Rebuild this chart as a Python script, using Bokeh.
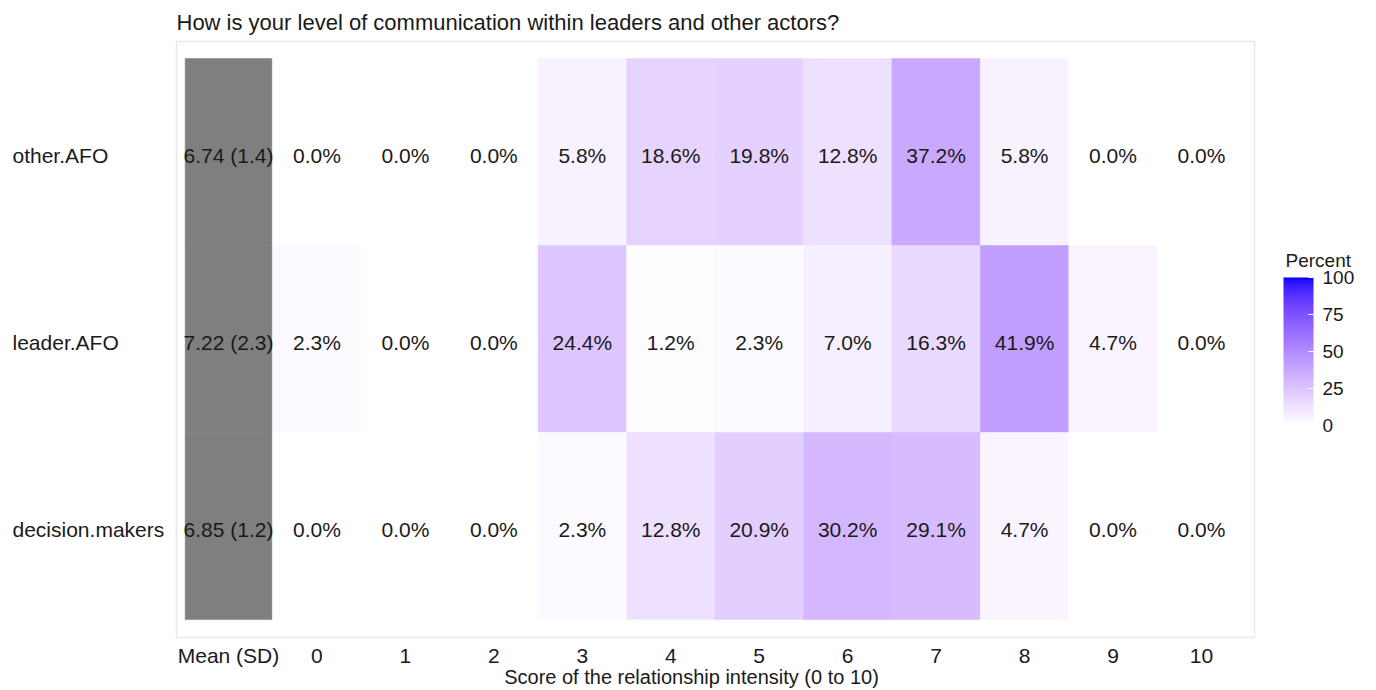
from bokeh.plotting import figure
from bokeh.models import (ColumnDataSource, Range1d, FixedTicker, LinearColorMapper,
                          ColorBar, BoxAnnotation)
from bokeh.transform import linear_cmap
from bokeh.embed import file_html
from bokeh.resources import INLINE
from bokeh.core.properties import value

# ---------------- data ----------------
rows = ["other.AFO", "leader.AFO", "decision.makers"]
scores = ["0", "1", "2", "3", "4", "5", "6", "7", "8", "9", "10"]
means = [6.74, 7.22, 6.85]
sds = [1.4, 2.3, 1.2]
pct_other = [0.0, 0.0, 0.0, 5.8, 18.6, 19.8, 12.8, 37.2, 5.8, 0.0, 0.0]
pct_leader = [2.3, 0.0, 0.0, 24.4, 1.2, 2.3, 7.0, 16.3, 41.9, 4.7, 0.0]
pct_decision = [0.0, 0.0, 0.0, 2.3, 12.8, 20.9, 30.2, 29.1, 4.7, 0.0, 0.0]
pct_rows = [pct_other, pct_leader, pct_decision]
x_labels = ["Mean (SD)"] + scores
legend_ticks = [0, 25, 50, 75, 100]
legend_title = "Percent"
title = "How is your level of communication within leaders and other actors?"
x_title = "Score of the relationship intensity (0 to 10)"

FONT = "Liberation Sans"
INK = "#1a1a1a"

# ---------------- palette: white -> blue, interpolated in CIELAB ----------------
def _lin(c):
    c = c / 255.0
    return c / 12.92 if c <= 0.04045 else ((c + 0.055) / 1.055) ** 2.4

def _gam(c):
    c = max(0.0, min(1.0, c))
    v = 12.92 * c if c <= 0.0031308 else 1.055 * c ** (1 / 2.4) - 0.055
    return int(round(max(0.0, min(1.0, v)) * 255))

XN, YN, ZN = 0.95047, 1.0, 1.08883

def rgb2lab(rgb):
    r, g, b = (_lin(v) for v in rgb)
    X = 0.4124564 * r + 0.3575761 * g + 0.1804375 * b
    Y = 0.2126729 * r + 0.7151522 * g + 0.0721750 * b
    Z = 0.0193339 * r + 0.1191920 * g + 0.9503041 * b
    def f(t):
        return t ** (1 / 3) if t > 216 / 24389 else (24389 / 27 * t + 16) / 116
    fx, fy, fz = f(X / XN), f(Y / YN), f(Z / ZN)
    return 116 * fy - 16, 500 * (fx - fy), 200 * (fy - fz)

def lab2hex(L, a, b):
    fy = (L + 16) / 116
    fx = fy + a / 500
    fz = fy - b / 200
    def finv(t):
        return t ** 3 if t ** 3 > 216 / 24389 else (116 * t - 16) / (24389 / 27)
    X, Y, Z = finv(fx) * XN, finv(fy) * YN, finv(fz) * ZN
    r = 3.2404542 * X - 1.5371385 * Y - 0.4985314 * Z
    g = -0.9692660 * X + 1.8760108 * Y + 0.0415560 * Z
    bb = 0.0556434 * X - 0.2040259 * Y + 1.0572252 * Z
    return "#%02x%02x%02x" % (_gam(r), _gam(g), _gam(bb))

lo, hi = rgb2lab((255, 255, 255)), rgb2lab((0, 0, 255))
N = 256
palette = [lab2hex(*(lo[k] + (hi[k] - lo[k]) * i / (N - 1) for k in range(3))) for i in range(N)]

# ---------------- sources ----------------
nrow = len(rows)
xs, ys, vals, labs = [], [], [], []
for i, r in enumerate(rows):
    for j, s in enumerate(scores):
        xs.append(j + 1)
        ys.append(nrow - 1 - i)
        vals.append(pct_rows[i][j])
        labs.append("%.1f%%" % pct_rows[i][j])
cells = ColumnDataSource(dict(x=xs, y=ys, v=vals, lab=labs))
mean_src = ColumnDataSource(dict(
    x=[0] * nrow,
    y=[nrow - 1 - i for i in range(nrow)],
    lab=["%.2f (%.1f)" % (m, s) for m, s in zip(means, sds)],
))

# ---------------- layout geometry (pixels) ----------------
W, H = 1372, 690
PX_X, PX_Y = 88.45, 187.0          # pixels per category step
panel_l, panel_r = -0.588, len(x_labels) - 1 + 0.6      # outlined panel in data units
panel_b, panel_t = -0.596, nrow - 1 + 0.591
frame_l, frame_r, frame_t, frame_b = 12, W - 2, 39, 638
outline_l, outline_t, outline_b = 176, 41, 637
x_start = panel_l - (outline_l - frame_l) / PX_X
x_end = x_start + (frame_r - frame_l) / PX_X
y_end = panel_t + (outline_t - frame_t) / PX_Y
y_start = panel_b - (frame_b - outline_b) / PX_Y

p = figure(width=W, height=H, output_backend="svg", toolbar_location=None,
           x_range=Range1d(x_start, x_end), y_range=Range1d(y_start, y_end),
           min_border_left=frame_l, min_border_right=W - frame_r,
           min_border_top=frame_t, min_border_bottom=H - frame_b,
           title=title)

p.title.text_font = FONT
p.title.text_font_size = "22px"
p.title.text_font_style = "normal"
p.title.text_color = INK
p.title.align = "left"
p.title.offset = outline_l - frame_l
p.title.standoff = 10

p.outline_line_color = None
p.grid.visible = False
p.background_fill_color = "white"
p.border_fill_color = "white"

# panel border
p.add_layout(BoxAnnotation(left=panel_l, right=panel_r, bottom=panel_b, top=panel_t,
                           fill_color=None, line_color="#b5b5b5", line_width=1.5,
                           level="underlay"))

cmap = linear_cmap("v", palette, 0, 100)
p.rect(x="x", y="y", width=1, height=1, source=cells,
       fill_color=cmap, line_color=cmap, line_width=0.5)
p.rect(x="x", y="y", width=0.98, height=1, source=mean_src,
       fill_color="#7f7f7f", line_color="#7f7f7f", line_width=0.5)

text_kw = dict(text_font=value(FONT), text_font_size="21px", text_color=INK,
               text_align="center", text_baseline="middle", y_offset=3)
p.text(x="x", y="y", text="lab", source=cells, **text_kw)
p.text(x="x", y="y", text="lab", source=mean_src, **text_kw)

# row names, left aligned at the left edge of the plot area
row_src = ColumnDataSource(dict(x=[x_start] * nrow, y=[nrow - 1 - i for i in range(nrow)], lab=rows))
p.text(x="x", y="y", text="lab", source=row_src, text_font=value(FONT),
       text_font_size="21px", text_color=INK, text_align="left",
       text_baseline="middle", y_offset=3)

# x axis
xa = p.xaxis[0]
xa.ticker = FixedTicker(ticks=list(range(len(x_labels))))
xa.major_label_overrides = {i: t for i, t in enumerate(x_labels)}
xa.major_label_text_font = FONT
xa.major_label_text_font_size = "21px"
xa.major_label_text_color = INK
xa.major_label_text_line_height = 1.0
xa.major_label_standoff = 5
xa.axis_line_color = None
xa.major_tick_line_color = None
xa.minor_tick_line_color = None
xa.major_tick_in = 0
xa.major_tick_out = 0
xa.axis_label = x_title
xa.axis_label_text_font = FONT
xa.axis_label_text_font_size = "20px"
xa.axis_label_text_font_style = "normal"
xa.axis_label_text_color = INK
xa.axis_label_text_line_height = 1.0
xa.axis_label_standoff = -4
p.yaxis[0].visible = False

# colour bar (inside the plot area, to the right of the panel)
mapper = LinearColorMapper(palette=palette, low=0, high=100)
cb = ColorBar(color_mapper=mapper, width=30, height=148,
              ticker=FixedTicker(ticks=legend_ticks),
              major_label_text_font=FONT, major_label_text_font_size="19px",
              major_label_text_color=INK, label_standoff=9,
              major_tick_line_color="white", major_tick_in=5, major_tick_out=0,
              bar_line_color=None, border_line_color=None,
              background_fill_color=None, location=(1271, 213), padding=0)
p.add_layout(cb, "center")

# legend title, above the colour bar
cb_title_x_px, cb_title_y_px = 1285, 260
p.text(x=[x_start + (cb_title_x_px - frame_l) / PX_X],
       y=[y_end - (cb_title_y_px - frame_t) / PX_Y],
       text=[legend_title], text_font=value(FONT), text_font_size="19px",
       text_color=INK, text_align="left", text_baseline="middle")

open("out.html", "w").write(file_html(p, INLINE))
